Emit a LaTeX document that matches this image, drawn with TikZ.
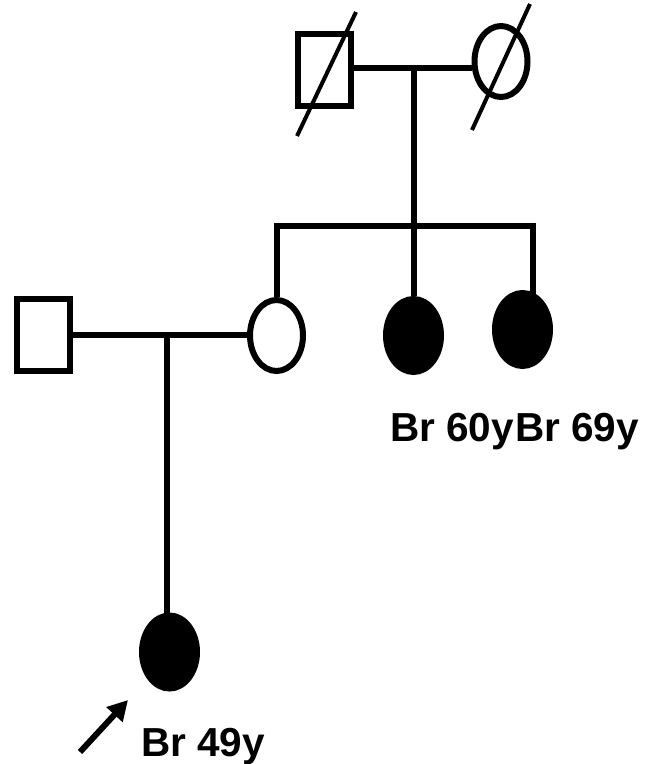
\documentclass[tikz,border=0pt]{standalone}
\usepackage{fontspec}
\setmainfont{Liberation Sans}
\usetikzlibrary{shapes.geometric,calc,arrows.meta}
\tikzset{
  pline/.style={line width=6pt, line join=miter, line cap=butt},
  slash/.style={line width=4pt},
  male/.style={draw, line width=6pt, rectangle, inner sep=0pt, minimum width=53pt, minimum height=72pt},
  female/.style={draw, line width=6pt, ellipse, inner sep=0pt, minimum width=53pt, minimum height=71pt},
  affected/.style={female, fill=black, minimum width=55pt, minimum height=73pt},
  lab/.style={font=\fontsize{40.5}{48}\selectfont\bfseries, anchor=base west, inner sep=0pt},
  parrow/.style={line width=6pt, -{Triangle[length=20pt,width=21pt]}}
}
\begin{document}
\begin{tikzpicture}[x=1pt,y=-1pt]
\useasboundingbox (0,0) rectangle (646,764);
% generation I
\node[male] (gf) at (324,69.5) {};
\node[female] (gm) at (501,61.5) {};
\coordinate (m1) at (413.5,68);
\coordinate (sibC) at (413.5,225.5);
% generation II
\node[male] (lf) at (43,335) {};
\node[female] (o) at (276.5,335.5) {};
\node[affected] (f1) at (413.5,335.5) {};
\node[affected] (f2) at (522.5,329.5) {};
\coordinate (sibL) at (276.5,225.5);
\coordinate (sibR) at (532.5,225.5);
\coordinate (f2top) at (532.5,296);
\coordinate (m2) at (167,335);
% generation III
\node[affected] (p) at (169.5,652) {};
\coordinate (arrT) at (80,752);
\coordinate (arrH) at (128,700);
% deceased slashes
\draw[slash] ($(gf.center)+(-27,66.5)$) -- ($(gf.center)+(32,-57.5)$);
\draw[slash] ($(gm.center)+(-29,68.5)$) -- ($(gm.center)+(29,-57.5)$);
% connectors
\draw[pline] (gf.east |- m1) -- (gm.west |- m1);
\draw[pline] (m1) -- (sibC);
\draw[pline] (o.north) -- (sibL) -- (sibR) -- (f2top);
\draw[pline] (sibC) -- (f1.north);
\draw[pline] (lf.east |- m2) -- (o.west |- m2);
\draw[pline] (m2) -- (m2 |- p.north);
\draw[parrow] (arrT) -- (arrH);
% labels
\node[lab] (l1) at (390,441) {Br 60y};
\node[lab] (l2) at (515,441) {Br 69y};
\node[lab] (l3) at (141,756) {Br 49y};
\end{tikzpicture}
\end{document}
